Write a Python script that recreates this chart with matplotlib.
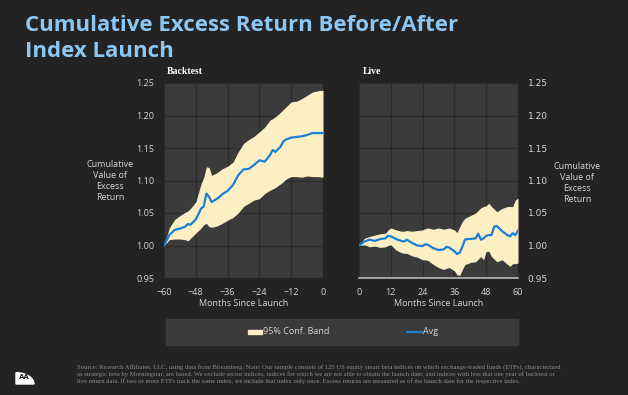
import numpy as np
import matplotlib
matplotlib.use("Agg")
import matplotlib.pyplot as plt
from matplotlib.patches import Rectangle, Wedge
from matplotlib.lines import Line2D

# dati
bt_months = [-60, -58, -56, -54, -52, -51, -50, -48, -46, -45, -44, -43, -42, -40, -39, -38, -36,
             -34, -32, -30, -28, -26, -24, -22, -20, -19, -18, -16, -15, -14, -12, -10, -8, -6,
             -4, -2, 0]
bt_avg = [1.000, 1.016, 1.024, 1.026, 1.029, 1.033, 1.032, 1.040, 1.057, 1.060, 1.080, 1.075, 1.067,
          1.072, 1.075, 1.079, 1.084, 1.093, 1.108, 1.117, 1.118, 1.124, 1.131, 1.129, 1.139, 1.147,
          1.144, 1.152, 1.160, 1.163, 1.166, 1.167, 1.168, 1.170, 1.173, 1.173, 1.173]
bt_upper = [1.000, 1.027, 1.040, 1.046, 1.051, 1.053, 1.057, 1.067, 1.095, 1.105, 1.121, 1.120, 1.108,
            1.112, 1.115, 1.118, 1.122, 1.128, 1.144, 1.157, 1.163, 1.168, 1.175, 1.182, 1.193, 1.195,
            1.198, 1.205, 1.209, 1.213, 1.221, 1.222, 1.226, 1.231, 1.236, 1.238, 1.239]
bt_lower = [1.000, 1.009, 1.010, 1.010, 1.009, 1.007, 1.011, 1.019, 1.027, 1.032, 1.034, 1.029, 1.028,
            1.030, 1.032, 1.034, 1.039, 1.043, 1.050, 1.060, 1.065, 1.070, 1.072, 1.080, 1.085, 1.087,
            1.089, 1.095, 1.098, 1.102, 1.106, 1.106, 1.105, 1.107, 1.106, 1.106, 1.105]

lv_months = [0, 2, 4, 6, 8, 10, 11, 12, 14, 16, 17, 18, 20, 22, 24, 25, 26, 28, 30, 32, 33, 34, 36,
             37, 38, 39, 40, 41, 42, 44, 45, 46, 47, 48, 49, 50, 51, 52, 54, 56, 57, 58, 59, 60]
lv_avg = [1.000, 1.006, 1.009, 1.007, 1.010, 1.011, 1.015, 1.014, 1.010, 1.007, 1.006, 1.009, 1.004,
          1.000, 0.999, 1.002, 1.001, 0.996, 0.993, 0.994, 0.998, 0.997, 0.991, 0.987, 0.989, 0.998,
          1.009, 1.010, 1.010, 1.011, 1.018, 1.009, 1.011, 1.015, 1.016, 1.016, 1.029, 1.030, 1.022,
          1.016, 1.014, 1.019, 1.016, 1.023]
lv_upper = [1.000, 1.011, 1.014, 1.016, 1.018, 1.019, 1.024, 1.027, 1.024, 1.022, 1.022, 1.023, 1.022,
            1.023, 1.024, 1.026, 1.027, 1.025, 1.027, 1.025, 1.026, 1.027, 1.024, 1.020, 1.029, 1.037,
            1.042, 1.044, 1.046, 1.050, 1.054, 1.058, 1.060, 1.061, 1.065, 1.060, 1.056, 1.052, 1.057,
            1.060, 1.060, 1.060, 1.070, 1.073]
lv_lower = [1.000, 1.001, 0.998, 0.999, 0.997, 0.998, 1.000, 1.001, 0.993, 0.989, 0.988, 0.988, 0.984,
            0.982, 0.978, 0.978, 0.977, 0.971, 0.966, 0.963, 0.965, 0.966, 0.961, 0.955, 0.954, 0.963,
            0.971, 0.972, 0.974, 0.975, 0.979, 0.983, 0.978, 0.991, 0.991, 0.983, 0.979, 0.975, 0.978,
            0.971, 0.968, 0.972, 0.972, 0.973]

y_ticks = [0.95, 1.00, 1.05, 1.10, 1.15, 1.20, 1.25]
bt_ticks = [-60, -48, -36, -24, -12, 0]
lv_ticks = [0, 12, 24, 36, 48, 60]

BG = "#232323"
PANEL = "#3b3b3b"
GRID = "#2c2c2c"
BAND = "#fdefc4"
LINE = "#1b7fd6"
TXT = "#d6d6d6"
W, H = 628, 395

fig = plt.figure(figsize=(6.28, 3.95), dpi=100, facecolor=BG)

def px_axes(x0, y0, x1, y1):
    return fig.add_axes([x0 / W, 1 - y1 / H, (x1 - x0) / W, (y1 - y0) / H])

def stile(ax, xt, xlim, side):
    ax.set_facecolor(PANEL)
    ax.set_xlim(xlim)
    ax.set_ylim(0.95, 1.25)
    ax.set_xticks(xt)
    ax.set_yticks(y_ticks)
    ax.set_yticklabels(["%.2f" % v for v in y_ticks])
    ax.grid(True, color=GRID, lw=1.0)
    ax.set_axisbelow(True)
    for s in ax.spines.values():
        s.set_visible(False)
    ax.tick_params(length=0, colors=TXT, labelsize=6.5, pad=7)
    for lab in ax.get_xticklabels() + ax.get_yticklabels():
        lab.set_family("Open Sans")
    if side == "right":
        ax.yaxis.tick_right()
    ax.set_xlabel("Months Since Launch", color=TXT, fontsize=6.5, family="Open Sans", labelpad=2)

ax1 = px_axes(164, 83, 323, 278)
stile(ax1, bt_ticks, (-60, 0), "left")
ax1.fill_between(bt_months, bt_lower, bt_upper, color=BAND, lw=0, zorder=2)
ax1.plot(bt_months, bt_avg, color=LINE, lw=1.6, zorder=3)

ax2 = px_axes(359, 83, 518, 278)
stile(ax2, lv_ticks, (0, 60), "right")
ax2.fill_between(lv_months, lv_lower, lv_upper, color=BAND, lw=0, zorder=2)
ax2.plot(lv_months, lv_avg, color=LINE, lw=1.6, zorder=3)
ax2.axhline(0.95, color="#b8b8b8", lw=1.2, zorder=4, clip_on=False)

# titolo
fig.text(25 / W, 1 - 31 / H, "Cumulative Excess Return Before/After", color="#8cc7f2",
         fontsize=16, fontweight="bold", family="Open Sans", va="baseline", ha="left")
fig.text(25 / W, 1 - 57 / H, "Index Launch", color="#8cc7f2",
         fontsize=16, fontweight="bold", family="Open Sans", va="baseline", ha="left")

fig.text(167 / W, 1 - 71 / H, "Backtest", color="white", fontsize=7, fontweight="bold",
         family="Liberation Serif", va="center", ha="left")
fig.text(363 / W, 1 - 71 / H, "Live", color="white", fontsize=7, fontweight="bold",
         family="Liberation Serif", va="center", ha="left")

ylab = "Cumulative\nValue of\nExcess\nReturn"
fig.text(110 / W, 1 - 181 / H, ylab, color=TXT, fontsize=6.5, family="Open Sans",
         ha="center", va="center", linespacing=1.25)
fig.text(577 / W, 1 - 183 / H, ylab, color=TXT, fontsize=6.5, family="Open Sans",
         ha="center", va="center", linespacing=1.25)

# legenda
fig.patches.append(Rectangle((166 / W, 1 - 345 / H), (518 - 166) / W, 26 / H,
                             transform=fig.transFigure, color="#3a3a3a", zorder=1))
fig.patches.append(Rectangle((248 / W, 1 - 334 / H), 14 / W, 4.5 / H,
                             transform=fig.transFigure, color=BAND, zorder=2))
fig.text(263 / W, 1 - 332 / H, "95% Conf. Band", color=TXT, fontsize=6.5, family="Open Sans",
         ha="left", va="center")
fig.lines.append(Line2D([407 / W, 422 / W], [1 - 332 / H, 1 - 332 / H], transform=fig.transFigure,
                        color=LINE, lw=1.6))
fig.text(423 / W, 1 - 332 / H, "Avg", color=TXT, fontsize=6.5, family="Open Sans",
         ha="left", va="center")

# fonte
fonte = ("Source: Research Affiliates, LLC, using data from Bloomberg. Note: Our sample consists of 125 US equity smart beta indices on which exchange-traded funds (ETFs), characterized\n"
         "as strategic beta by Morningstar, are based. We exclude sector indices; indices for which we are not able to obtain the launch date; and indices with less that one year of backtest or\n"
         "live return data. If two or more ETFs track the same index, we include that index only once. Excess returns are measured as of the launch date for the respective index.")
fig.text(77 / W, 1 - 374 / H, fonte, color="#8c8c8c", fontsize=4.75, family="Liberation Serif",
         ha="left", va="center", linespacing=1.2)

# logo
fig.patches.append(Wedge((16 / W, 1 - 384 / H), 18 / W, 0, 90, transform=fig.transFigure,
                         color="white", zorder=2))
fig.text(24 / W, 1 - 377 / H, "AA", color=BG, fontsize=5, fontweight="bold", ha="center",
         va="center", zorder=3)

fig.savefig("out.png", dpi=100, facecolor=BG)
